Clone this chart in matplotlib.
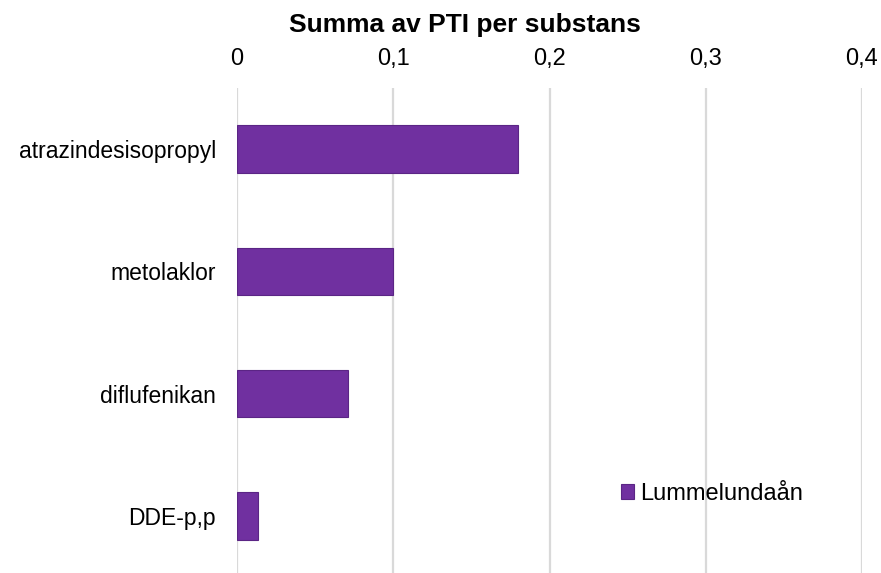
import matplotlib
matplotlib.use("Agg")
from matplotlib import pyplot as plt
from matplotlib.ticker import FuncFormatter

# data, top to bottom as in the chart
substanser = ["atrazindesisopropyl", "metolaklor", "diflufenikan", "DDE-p,p"]
pti = [0.180, 0.100, 0.071, 0.0134]
serie = "Lummelundaån"
x_ticks = [0, 0.1, 0.2, 0.3, 0.4]

plt.rcParams['font.family'] = ['Liberation Sans', 'DejaVu Sans']

fig = plt.figure(figsize=(8.81, 5.73), dpi=100)
# plot area: x 237..862 px, y 88..577 px (runs a little past the bottom edge)
ax = fig.add_axes([237 / 881, 1 - 577 / 573, (862 - 237) / 881, (577 - 88) / 573])

y = list(range(len(substanser)))
ax.barh(y, pti, height=0.39, color="#7030A0", edgecolor="#5B2585",
        linewidth=0.8, label=serie, zorder=3)

ax.set_xlim(0, 0.4)
ax.set_ylim(len(substanser) - 0.5, -0.5)
ax.set_xticks(x_ticks)
ax.xaxis.set_major_formatter(FuncFormatter(lambda v, p: ("%g" % round(v, 2)).replace(".", ",")))
ax.xaxis.tick_top()
ax.tick_params(axis="x", length=0, pad=13, labelsize=17, colors="#000000")
ax.set_yticks(y)
ax.set_yticklabels(substanser)
ax.tick_params(axis="y", length=0, pad=15, labelsize=16.5)

ax.grid(axis="x", color="#D9D9D9", linewidth=1.6, zorder=0)
for s in ax.spines.values():
    s.set_visible(False)

ax.legend(loc="center left", bbox_to_anchor=((612 - 237) / (862 - 237), (577 - 494) / (577 - 88)),
          frameon=False, fontsize=17, handlelength=0.55, handleheight=0.6,
          handletextpad=0.25, borderaxespad=0)

fig.text(465 / 881, 1 - 25 / 573, "Summa av PTI per substans", ha="center", va="center",
         fontsize=19, fontweight="bold")

fig.savefig("out.png", dpi=100)
